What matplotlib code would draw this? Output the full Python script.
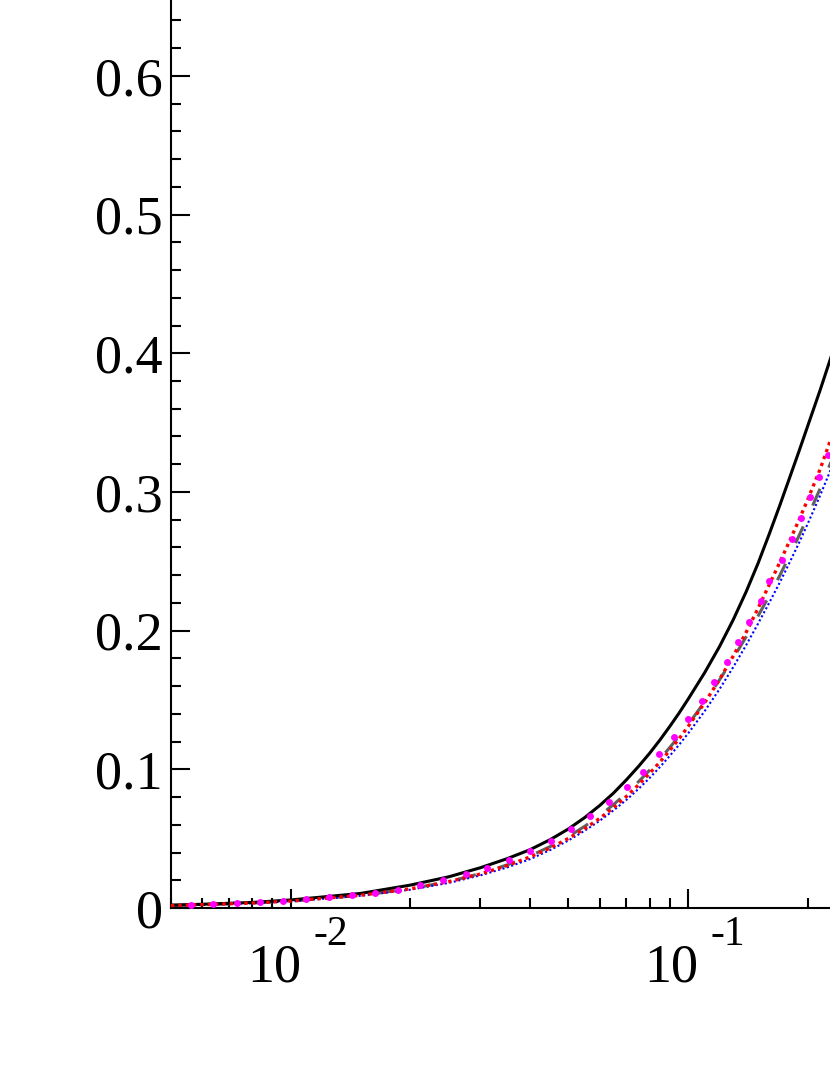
import math

import matplotlib

matplotlib.use("Agg")
import matplotlib.pyplot as plt  # noqa: E402
from matplotlib.ticker import MultipleLocator, NullFormatter, LogLocator  # noqa: E402

# Кривые (общая сетка по x).
x_lines = [0.005, 0.006, 0.008, 0.01, 0.015, 0.02, 0.025, 0.03, 0.035, 0.04,
           0.045, 0.05, 0.055, 0.06, 0.065, 0.07, 0.075, 0.08, 0.085, 0.09,
           0.095, 0.1, 0.11, 0.12, 0.13, 0.14, 0.15, 0.16, 0.17, 0.18, 0.19,
           0.2, 0.215, 0.23]
black_solid = [0.0021, 0.0027, 0.0040, 0.0058, 0.0105, 0.0165, 0.0225, 0.0290,
               0.0355, 0.0420, 0.0493, 0.0570, 0.0653, 0.0740, 0.0830, 0.0925,
               0.1020, 0.1115, 0.1212, 0.1310, 0.1407, 0.1505, 0.1695, 0.1885,
               0.2080, 0.2280, 0.2485, 0.2695, 0.2900, 0.3100, 0.3290, 0.3475,
               0.3735, 0.3990]
red_dotted = [0.0018, 0.0024, 0.0036, 0.0050, 0.0092, 0.0138, 0.0190, 0.0245,
              0.0305, 0.0368, 0.0433, 0.0502, 0.0573, 0.0647, 0.0725, 0.0805,
              0.0887, 0.0970, 0.1053, 0.1137, 0.1222, 0.1308, 0.1478, 0.1648,
              0.1818, 0.1988, 0.2160, 0.2330, 0.2490, 0.2645, 0.2795, 0.2945,
              0.3165, 0.3400]
gray_dashed = [0.0018, 0.0023, 0.0035, 0.0049, 0.0091, 0.0138, 0.0191, 0.0248,
               0.0310, 0.0375, 0.0443, 0.0515, 0.0590, 0.0667, 0.0747, 0.0828,
               0.0910, 0.0993, 0.1075, 0.1158, 0.1240, 0.1322, 0.1485, 0.1645,
               0.1802, 0.1955, 0.2105, 0.2250, 0.2395, 0.2540, 0.2682, 0.2820,
               0.3025, 0.3230]
blue_dotted = [0.0017, 0.0022, 0.0034, 0.0048, 0.0088, 0.0132, 0.0181, 0.0235,
               0.0292, 0.0352, 0.0418, 0.0487, 0.0558, 0.0630, 0.0705, 0.0780,
               0.0858, 0.0937, 0.1017, 0.1098, 0.1178, 0.1258, 0.1418, 0.1578,
               0.1738, 0.1895, 0.2050, 0.2200, 0.2345, 0.2490, 0.2630, 0.2770,
               0.2975, 0.3180]

# Розовые точки (символы), каждая своя.
x_dots = [0.005601, 0.006374, 0.007324, 0.008369, 0.009563, 0.01093, 0.01249,
          0.01427, 0.01631, 0.01863, 0.02116, 0.02416, 0.02762, 0.03118,
          0.03543, 0.04002, 0.04519, 0.05074, 0.05666, 0.06325, 0.07023,
          0.07702, 0.08453, 0.09222, 0.1000, 0.1084, 0.1162, 0.1253, 0.1336,
          0.1424, 0.1527, 0.1599, 0.1724, 0.1827, 0.1925, 0.2028, 0.2137,
          0.2251]
y_dots = [0.0022, 0.0029, 0.0036, 0.0043, 0.0053, 0.0065, 0.0082, 0.0096,
          0.0111, 0.0132, 0.0166, 0.0202, 0.0245, 0.0288, 0.0346, 0.0411,
          0.0483, 0.0570, 0.0663, 0.0764, 0.0872, 0.0981, 0.1110, 0.1233,
          0.1363, 0.1493, 0.1630, 0.1774, 0.1918, 0.2062, 0.2214, 0.2358,
          0.2509, 0.2660, 0.2812, 0.2963, 0.3107, 0.3266]

y_major = [0.0, 0.1, 0.2, 0.3, 0.4, 0.5, 0.6]
y_labels = ["0", "0.1", "0.2", "0.3", "0.4", "0.5", "0.6"]

plt.rcParams["font.family"] = ["Liberation Serif", "DejaVu Serif"]

fig = plt.figure(figsize=(8.3, 10.75), dpi=100)
ax = fig.add_axes([171 / 830, 167 / 1075, 1 - 171 / 830, 908 / 1075])

ax.plot(x_lines, black_solid, color="black", linewidth=2.2, zorder=3)
ax.plot(x_lines, red_dotted, color="#ff0000", linewidth=2.4,
        linestyle=(0, (1, 1.2)), zorder=4)
ax.plot(x_lines, gray_dashed, color="#606060", linewidth=2.2,
        linestyle=(0, (6, 7.5)), zorder=2)
ax.plot(x_lines, blue_dotted, color="#0000ff", linewidth=1.5,
        linestyle=(0, (1, 1.2)), zorder=2)
ax.plot(x_dots, y_dots, linestyle="none", marker="o", markersize=5,
        color="#ff00ff", markeredgewidth=0, zorder=5)

ax.set_xscale("log")
ax.set_xlim(0.005, 0.2276)
ax.set_ylim(0, 0.6547)

ax.spines["top"].set_visible(False)
ax.spines["right"].set_visible(False)
ax.spines["left"].set_linewidth(1.5)
ax.spines["bottom"].set_linewidth(1.5)

ax.set_yticks(y_major)
ax.set_yticklabels(y_labels, fontsize=39)
ax.yaxis.set_minor_locator(MultipleLocator(0.02))

ax.xaxis.set_major_locator(LogLocator(base=10))
ax.xaxis.set_minor_locator(LogLocator(base=10, subs=range(2, 10)))
ax.xaxis.set_major_formatter(NullFormatter())
ax.xaxis.set_minor_formatter(NullFormatter())

ax.tick_params(which="major", direction="in", length=13.7, width=1.5, pad=6)
ax.tick_params(which="minor", direction="in", length=7.2, width=1.5)
ax.tick_params(axis="x", which="both", top=False)
ax.tick_params(axis="y", which="both", right=False)

# Подписи 10^n в стиле оригинала: «10» и отдельно показатель.
xmin, xmax = ax.get_xlim()
for tick in ax.get_xticks():
    if not (xmin <= tick <= xmax):
        continue
    power = int(round(math.log10(tick)))
    ax.annotate("10", xy=(tick, 0), xycoords=ax.get_xaxis_transform(),
                xytext=(-12, -52.6), textcoords="offset points",
                ha="center", va="baseline", fontsize=39)
    ax.annotate(str(power), xy=(tick, 0), xycoords=ax.get_xaxis_transform(),
                xytext=(16.5, -26.6), textcoords="offset points",
                ha="left", va="baseline", fontsize=30)

fig.savefig("out.png", dpi=100)
plt.close(fig)
